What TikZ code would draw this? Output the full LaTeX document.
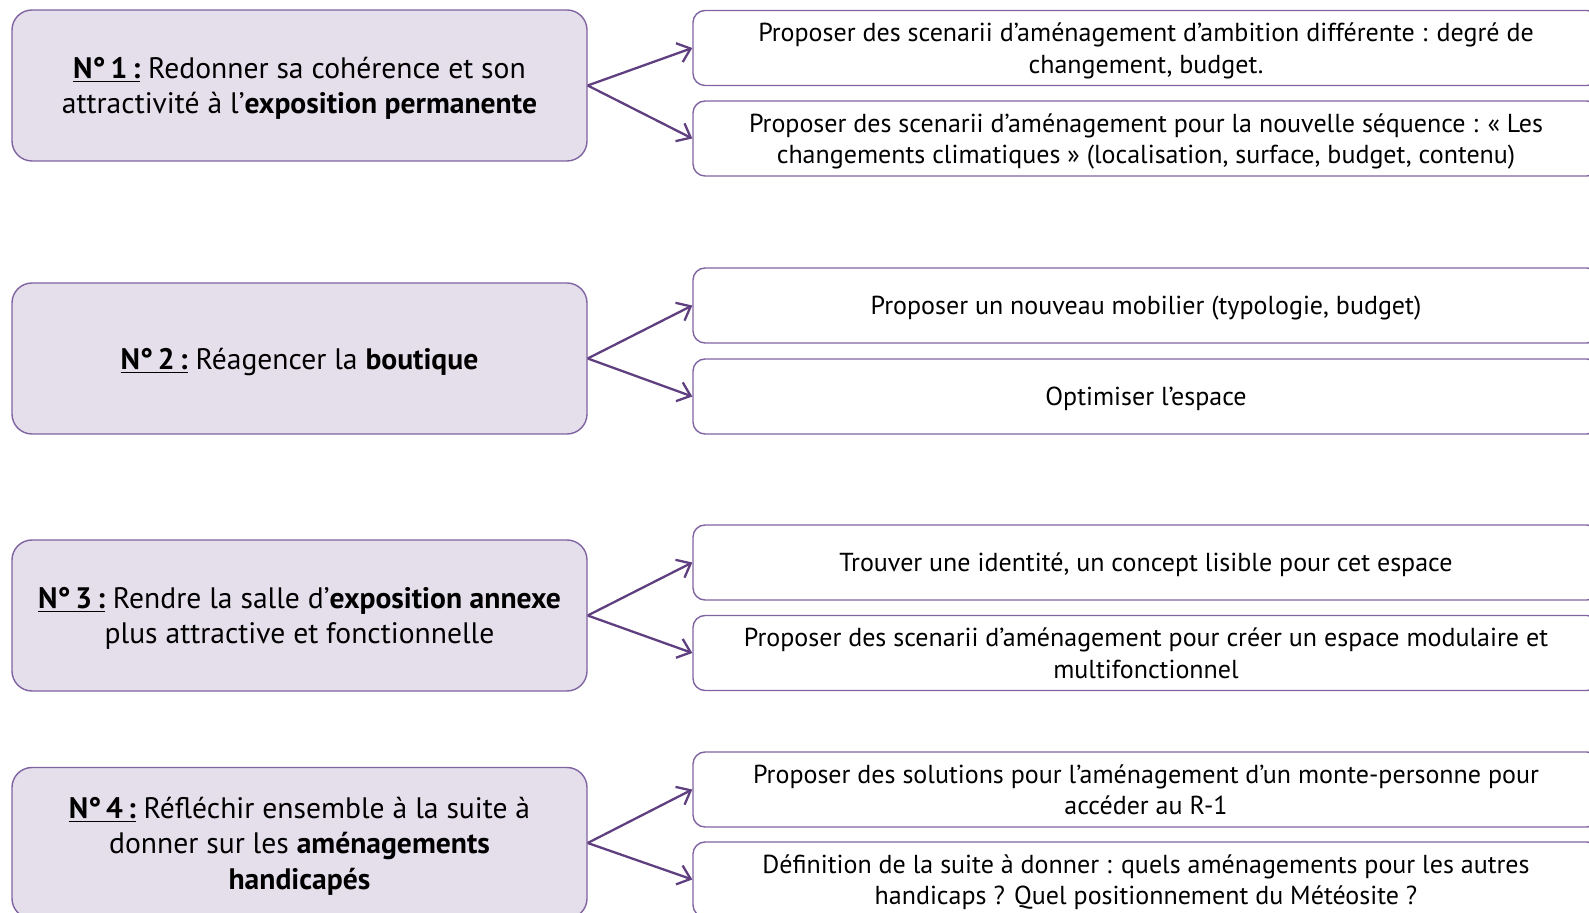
\documentclass[tikz,border=0pt]{standalone}
\usepackage{fontspec}
\setmainfont{PT Sans}
\usetikzlibrary{arrows.meta}

\definecolor{lilac}{HTML}{E5DFEC}
\definecolor{plum}{HTML}{8064A2}
\definecolor{darkplum}{HTML}{5F3F80}

\newcommand{\goalno}[1]{\underline{\textbf{#1}}}

\begin{document}
\begin{tikzpicture}[x=0.5pt,y=-0.5pt,
    goal/.style={draw=plum,line width=0.7pt,fill=lilac,rounded corners=10pt,
        minimum width=287.5pt,minimum height=75.5pt,align=center,
        font=\fontsize{14.8}{17.75}\selectfont,text depth=-0.4pt},
    task/.style={draw=plum,line width=0.7pt,fill=white,rounded corners=6pt,
        minimum width=453pt,minimum height=37.5pt,align=center,
        font=\fontsize{13}{15.7}\selectfont,text depth=-0.8pt},
    arr/.style={draw=darkplum,line width=1.15pt,-{Straight Barb[length=6pt,width=10pt]}}]
        \clip (0,0) rectangle (1589,913);

        % Goals
        \node[goal] (n1) at (299.5, 85.5) {\goalno{N°\,1\,:} Redonner sa cohérence et son\\ attractivité à l’\textbf{exposition permanente}};
        \node[goal] (n2) at (299.5, 358.5) {\goalno{N°\,2\,:} Réagencer la \textbf{boutique}};
        \node[goal] (n3) at (299.5, 615.5) {\goalno{N°\,3\,:} Rendre la salle d’\textbf{exposition annexe}\\ plus attractive et fonctionnelle};
        \node[goal] (n4) at (299.5, 843) {\goalno{N°\,4\,:} Réfléchir ensemble à la suite à\\ donner sur les \textbf{aménagements}\\ \textbf{handicapés}};

        % Tasks
        \node[task] (n1a) at (1146, 48) {Proposer des scenarii d’aménagement d’ambition différente : degré de\\ changement, budget.};
        \node[task] (n1b) at (1146, 138.5) {Proposer des scenarii d’aménagement pour la nouvelle séquence : « Les\\ changements climatiques » (localisation, surface, budget, contenu)};

        \node[task] (n2a) at (1146, 305.5) {Proposer un nouveau mobilier (typologie, budget)};
        \node[task] (n2b) at (1146, 396.5) {Optimiser l’espace};

        \node[task] (n3a) at (1146, 562.5) {Trouver une identité, un concept lisible pour cet espace};
        \node[task] (n3b) at (1146, 653) {Proposer des scenarii d’aménagement pour créer un espace modulaire et\\ multifonctionnel};

        \node[task] (n4a) at (1146, 789.5) {Proposer des solutions pour l’aménagement d’un monte-personne pour\\ accéder au R-1};
        \node[task] (n4b) at (1146, 879.5) {Définition de la suite à donner : quels aménagements pour les autres\\ handicaps ? Quel positionnement du Météosite ?};

        \path[every edge/.append style=arr]
              (n1.east) edge (n1a.west) edge (n1b.west)
              (n2.east) edge (n2a.west) edge (n2b.west)
              (n3.east) edge (n3a.west) edge (n3b.west)
              (n4.east) edge (n4a.west) edge (n4b.west);
    \end{tikzpicture}
\end{document}
